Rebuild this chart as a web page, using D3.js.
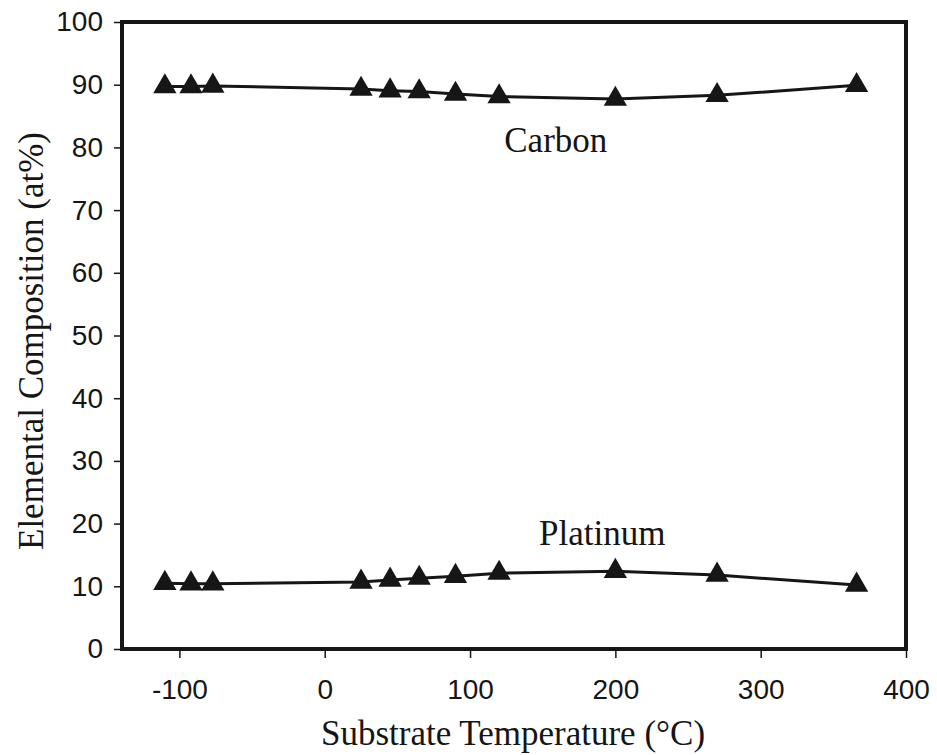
<!DOCTYPE html>
<html><head><meta charset="utf-8">
<script src="https://cdn.jsdelivr.net/npm/d3@7"></script>
<style>body{margin:0;background:#fff;}</style>
</head><body>
<svg id="chart" width="937" height="755"></svg>
<script>
const temps = [-110, -92, -77, 25, 45, 65, 90, 120, 200, 270, 366];
const carbon = [89.7, 89.7, 89.8, 89.3, 89.05, 88.9, 88.5, 88.1, 87.7, 88.3, 89.9];
const platinum = [10.5, 10.4, 10.4, 10.7, 11.0, 11.3, 11.6, 12.1, 12.4, 11.8, 10.2];
const xTicks = [-100, 0, 100, 200, 300, 400];
const yTicks = [0, 10, 20, 30, 40, 50, 60, 70, 80, 90, 100];
const seriesLabels = [{name: "Carbon", x: 159, y: 79.3}, {name: "Platinum", x: 191, y: 16.6}];

(function () {
const svg = d3.select("#chart");
const mL = 122, mR = 906, mT = 22, mB = 649;
const x = d3.scaleLinear().domain([-139.5, 400]).range([mL, mR]);
const y = d3.scaleLinear().domain([0, 100]).range([mB, mT]);
const ink = "#161616";
const serif = "'Liberation Serif', 'Times New Roman', serif";

const xAxis = svg.append("g").attr("transform", `translate(0,${mB})`)
  .call(d3.axisBottom(x).tickValues(xTicks).tickSize(9).tickPadding(21).tickFormat(d => String(d)));
const yAxis = svg.append("g").attr("transform", `translate(${mL},0)`)
  .call(d3.axisLeft(y).tickValues(yTicks).tickSize(8).tickPadding(11));
[xAxis, yAxis].forEach(a => {
  a.select(".domain").remove();
  a.selectAll(".tick line").attr("stroke", ink).attr("stroke-width", 1.5);
  a.selectAll(".tick text").attr("fill", "#151515")
    .style("font-family", "'Liberation Sans', Arial, sans-serif").style("font-size", "28px");
});
xAxis.selectAll(".tick text").attr("dy", "0.71em");

svg.append("rect").attr("x", mL).attr("y", mT).attr("width", mR - mL).attr("height", mB - mT)
  .attr("fill", "none").attr("stroke", ink).attr("stroke-width", 4);

const line = d3.line().x(d => x(d[0])).y(d => y(d[1]));
const sym = d3.symbol().type(d3.symbolTriangle).size(235);
[carbon, platinum].forEach(vals => {
  const pts = temps.map((t, i) => [t, vals[i]]);
  svg.append("path").datum(pts).attr("d", line).attr("fill", "none")
    .attr("stroke", ink).attr("stroke-width", 3);
  svg.append("g").selectAll("path").data(pts).join("path")
    .attr("transform", d => `translate(${x(d[0])},${y(d[1])})`)
    .attr("d", sym).attr("fill", ink);
});

seriesLabels.forEach(l => {
  svg.append("text").attr("x", x(l.x)).attr("y", y(l.y)).attr("text-anchor", "middle")
    .style("font-family", serif).style("font-size", "35px")
    .attr("fill", "#151515").text(l.name);
});

svg.append("text").attr("x", 513).attr("y", 745).attr("text-anchor", "middle")
  .style("font-family", serif).style("font-size", "35px")
  .attr("fill", "#151515").text("Substrate Temperature (°C)");
svg.append("text").attr("transform", `translate(43,341) rotate(-90)`)
  .attr("text-anchor", "middle")
  .style("font-family", serif).style("font-size", "35px")
  .attr("fill", "#151515").text("Elemental Composition (at%)");
})();
</script>
</body></html>
